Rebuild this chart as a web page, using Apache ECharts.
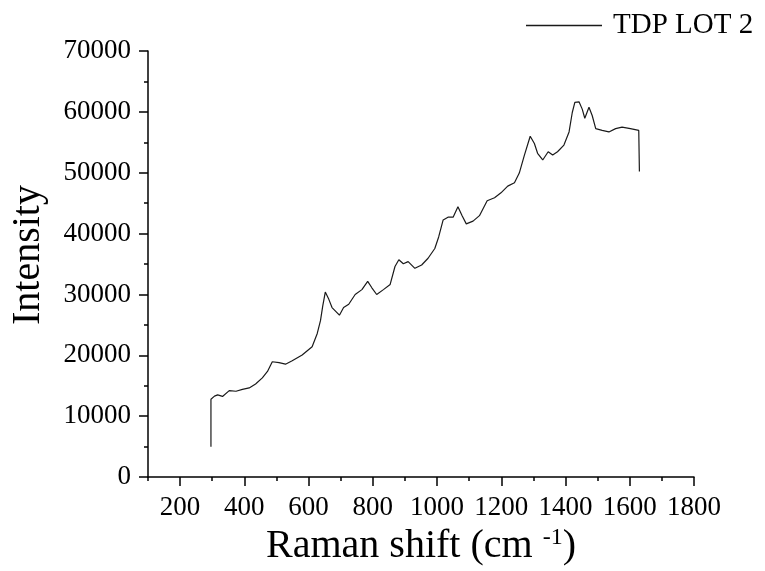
<!DOCTYPE html>
<html>
<head>
<meta charset="utf-8">
<script src="https://cdn.jsdelivr.net/npm/echarts@6/dist/echarts.min.js"></script>
<style>
  html, body { margin: 0; padding: 0; background: #fff; }
  #chart { width: 765px; height: 571px; }
</style>
</head>
<body>
<div id="chart"></div>
<script>
// Raman spectrum, TDP LOT 2
const seriesName = 'TDP LOT 2';
const ramanShift = [296, 296, 307, 317, 332, 353, 374, 394, 415, 435, 456, 472, 487, 508, 528, 549, 580, 611, 627, 637,
  644, 652, 663, 673, 696, 709, 725, 745, 766, 784, 797, 812, 833, 854, 869, 881, 895, 910, 931, 952,
  972, 993, 1005, 1019, 1034, 1050, 1065, 1078, 1091, 1112, 1132, 1156, 1179, 1199, 1220, 1241, 1256, 1272, 1290, 1303,
  1313, 1329, 1346, 1360, 1375, 1395, 1411, 1421, 1429, 1442, 1452, 1460, 1473, 1483, 1494, 1514, 1535, 1556, 1576, 1602,
  1628, 1630, 1630];
const intensity = [5000, 12800, 13300, 13500, 13250, 14200, 14100, 14400, 14650, 15300, 16300, 17350, 18950, 18800, 18550, 19100, 20050, 21400, 23600, 25700,
  28100, 30400, 29200, 27850, 26600, 27850, 28400, 30000, 30800, 32150, 31100, 30000, 30800, 31650, 34600, 35700, 35050, 35400, 34300, 34850,
  35950, 37550, 39450, 42250, 42700, 42700, 44400, 42950, 41600, 42050, 42950, 45400, 45900, 46700, 47800, 48350, 49950, 52900, 56000, 54800,
  53200, 52100, 53450, 52900, 53450, 54550, 56700, 59900, 61550, 61650, 60450, 58950, 60750, 59400, 57250, 56950, 56700, 57250, 57500, 57250,
  56950, 57000, 50200];

// axis ticks
const xMajorTicks = [200, 400, 600, 800, 1000, 1200, 1400, 1600, 1800];
const xMinorTicks = [100, 300, 500, 700, 900, 1100, 1300, 1500, 1700];

const points = ramanShift.map((x, i) => [x, intensity[i]]);

const FONT = '"Liberation Serif", "DejaVu Serif", serif';
const INK = '#000';
const plain = v => String(v);

const chart = echarts.init(document.getElementById('chart'), null, { renderer: 'canvas' });
chart.setOption({
  animation: false,
  backgroundColor: '#fff',
  textStyle: { fontFamily: FONT, color: INK },
  grid: { left: 145, right: 71, top: 51, bottom: 87, containLabel: false },
  legend: {
    data: [seriesName],
    left: 521,
    top: 6,
    icon: 'rect',
    itemWidth: 76,
    itemHeight: 1.3,
    itemStyle: { color: '#1a1a1a' },
    textStyle: { fontFamily: FONT, fontSize: 29, color: INK, padding: [0, 0, 0, 6] }
  },
  xAxis: [
    {
      type: 'value',
      position: 'bottom',
      min: 100,
      max: 1800,
      interval: 100,
      name: 'Raman shift (cm {sup|-1})',
      nameLocation: 'middle',
      nameGap: 48,
      nameTextStyle: {
        fontFamily: FONT, fontSize: 40, color: INK,
        rich: { sup: { fontFamily: FONT, fontSize: 24, color: INK, padding: [0, 0, 16, 0] } }
      },
      axisLine: { show: true, onZero: false, lineStyle: { color: INK, width: 1.5 } },
      axisTick: { show: true, customValues: xMajorTicks, length: 9, lineStyle: { color: INK, width: 1.5 } },
      axisLabel: {
        customValues: xMajorTicks,
        formatter: plain,
        margin: 17,
        fontFamily: FONT, fontSize: 27, color: INK
      },
      splitLine: { show: false }
    },
    {
      type: 'value',
      position: 'bottom',
      min: 100,
      max: 1800,
      interval: 100,
      axisLine: { show: false },
      axisTick: { show: true, customValues: xMinorTicks, length: 4, lineStyle: { color: INK, width: 1.5 } },
      axisLabel: { show: false },
      splitLine: { show: false }
    }
  ],
  yAxis: {
    type: 'value',
    min: 0,
    max: 70000,
    interval: 10000,
    name: 'Intensity',
    nameLocation: 'middle',
    nameGap: 100,
    nameTextStyle: { fontFamily: FONT, fontSize: 40, color: INK, padding: [0, 0, 0, 18] },
    axisLine: { show: true, onZero: false, lineStyle: { color: INK, width: 1.5 } },
    axisTick: { show: true, length: 9, lineStyle: { color: INK, width: 1.5 } },
    minorTick: { show: true, splitNumber: 2, length: 4, lineStyle: { color: INK, width: 1.5 } },
    axisLabel: { formatter: plain, margin: 17, fontFamily: FONT, fontSize: 27, color: INK },
    splitLine: { show: false }
  },
  series: [{
    name: seriesName,
    type: 'line',
    xAxisIndex: 0,
    data: points,
    showSymbol: false,
    symbol: 'none',
    lineStyle: { color: '#1a1a1a', width: 1.2 },
    itemStyle: { color: '#1a1a1a' }
  }]
});
</script>
</body>
</html>
